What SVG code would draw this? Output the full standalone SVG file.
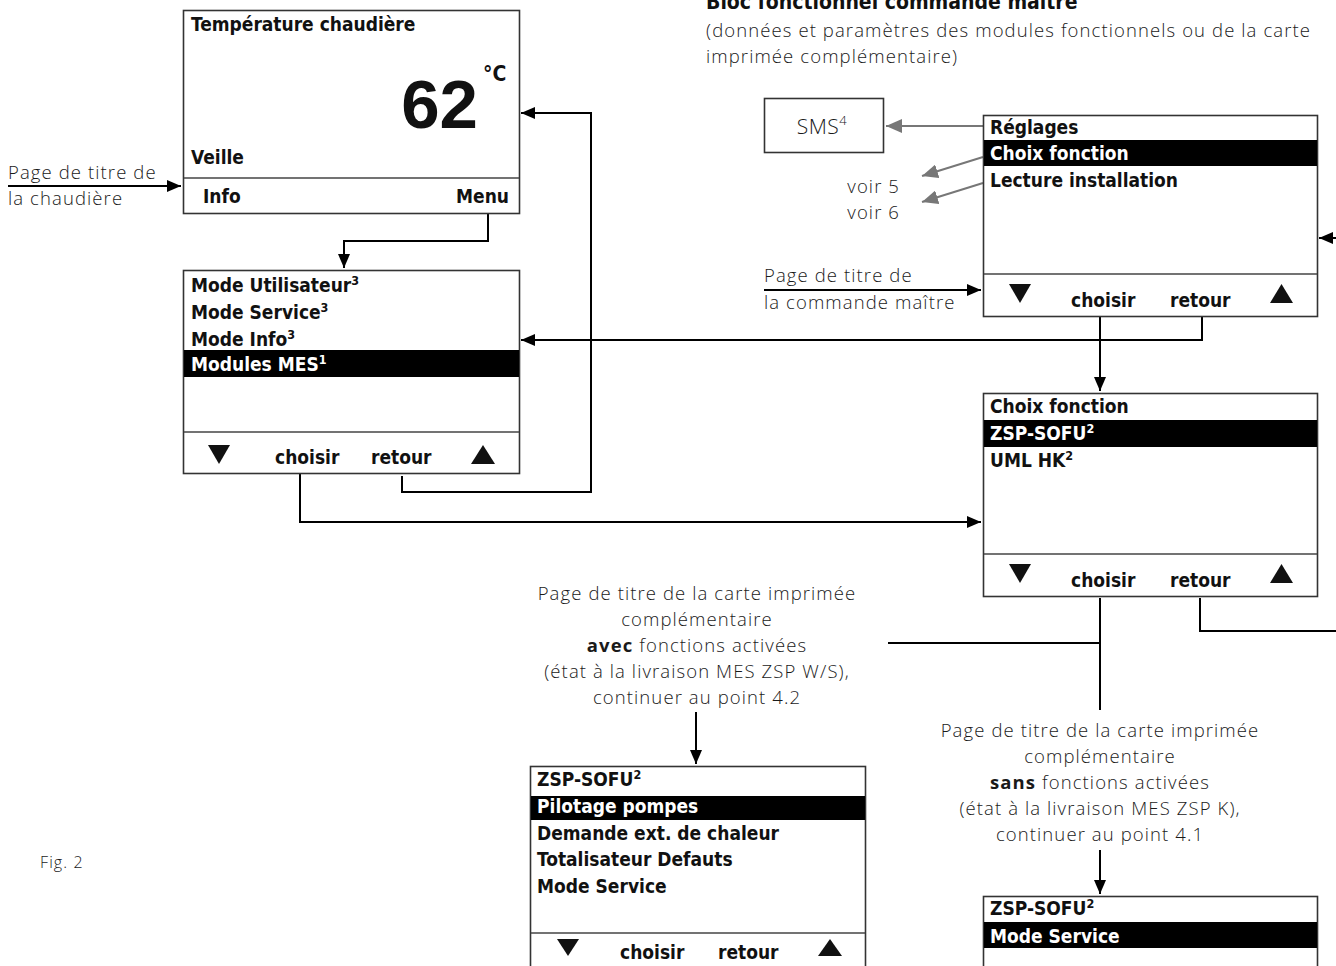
<svg xmlns="http://www.w3.org/2000/svg" width="1336" height="966" viewBox="0 0 1336 966">
<style>
.box{fill:#fff;stroke:#333;stroke-width:1.6}
.div{stroke:#444;stroke-width:1.4}
.hl{fill:#000}
.b{font-family:"DejaVu Sans Condensed","DejaVu Sans",sans-serif;font-stretch:condensed;font-weight:bold;font-size:19px;fill:#111}
.w{fill:#fff}
.l{font-family:"Open Sans","DejaVu Sans",sans-serif;font-weight:300;font-size:18.5px;letter-spacing:1.1px;fill:#1a1a1a}
.c{stroke:#000;stroke-width:2;fill:none}
.g{stroke:#777;stroke-width:2;fill:none}
.tri{fill:#111}
.sup{font-size:12.5px}
</style>
<defs>
<marker id="ah" markerUnits="userSpaceOnUse" markerWidth="14" markerHeight="12" refX="14" refY="6" orient="auto"><path d="M0,0 L14,6 L0,12 z" fill="#000"/></marker>
<marker id="gh" markerUnits="userSpaceOnUse" markerWidth="16" markerHeight="14" refX="16" refY="7" orient="auto"><path d="M0,0 L16,7 L0,14 z" fill="#777"/></marker>
</defs>

<text class="b" x="706" y="9" style="font-size:21px">Bloc fonctionnel commande maître</text>
<text class="l" x="706" y="37">(données et paramètres des modules fonctionnels ou de la carte</text>
<text class="l" x="706" y="63">imprimée complémentaire)</text>
<text class="l" x="40" y="868" style="font-size:16px">Fig. 2</text>

<g id="connectors">
<path class="c" d="M8,186 H181" marker-end="url(#ah)"/>
<path class="c" d="M488,214 V241 H344 V268" marker-end="url(#ah)"/>
<path class="c" d="M402,476 V492 H591 V113 H521" marker-end="url(#ah)"/>
<path class="c" d="M300,474 V522 H981" marker-end="url(#ah)"/>
<path class="c" d="M1202,317 V340 H521" marker-end="url(#ah)"/>
<path class="c" d="M1336,238 H1319" marker-end="url(#ah)"/>
<path class="c" d="M764,290 H981" marker-end="url(#ah)"/>
<path class="c" d="M1100,317 V391" marker-end="url(#ah)"/>
<path class="c" d="M1100,598 V710"/>
<path class="c" d="M888,643 H1100"/>
<path class="c" d="M1200,598 V631 H1336"/>
<path class="c" d="M696,712 V764" marker-end="url(#ah)"/>
<path class="c" d="M1100,850 V894" marker-end="url(#ah)"/>
<path class="g" d="M983,126 H886" marker-end="url(#gh)"/>
<path class="g" d="M983,157 L922,176" marker-end="url(#gh)"/>
<path class="g" d="M983,183 L922,202" marker-end="url(#gh)"/>
</g>

<g id="label-chaudiere">
<text class="l" x="8" y="179">Page de titre de</text>
<text class="l" x="8" y="205">la chaudière</text>
</g>
<g id="label-maitre">
<text class="l" x="764" y="282">Page de titre de</text>
<text class="l" x="764" y="309">la commande maître</text>
</g>
<g id="label-voir">
<text class="l" x="900" y="193" text-anchor="end">voir 5</text>
<text class="l" x="900" y="219" text-anchor="end">voir 6</text>
</g>

<g id="node-temp">
<rect class="box" x="183.5" y="10.5" width="336" height="203"/>
<line class="div" x1="184" y1="178" x2="519" y2="178"/>
<text class="b" x="191" y="31">Température chaudière</text>
<text x="478" y="128" text-anchor="end" style="font-family:'Liberation Sans',sans-serif;font-weight:bold;font-size:69px" fill="#111">62</text>
<text class="b" x="483" y="81" style="font-size:21px">°C</text>
<text class="b" x="191" y="164">Veille</text>
<text class="b" x="203" y="203">Info</text>
<text class="b" x="509" y="203" text-anchor="end">Menu</text>
</g>

<g id="node-menu">
<rect class="box" x="183.5" y="270.5" width="336" height="203"/>
<rect class="hl" x="184" y="350" width="335" height="27"/>
<line class="div" x1="184" y1="432" x2="519" y2="432"/>
<text class="b" x="191" y="292">Mode Utilisateur<tspan class="sup" dy="-7">3</tspan></text>
<text class="b" x="191" y="319">Mode Service<tspan class="sup" dy="-7">3</tspan></text>
<text class="b" x="191" y="346">Mode Info<tspan class="sup" dy="-7">3</tspan></text>
<text class="b w" x="191" y="371">Modules MES<tspan class="sup" dy="-7">1</tspan></text>
<polygon class="tri" points="208,445 230,445 219,464"/>
<polygon class="tri" points="471,464 495,464 483,445"/>
<text class="b" x="275" y="464">choisir</text>
<text class="b" x="371" y="464">retour</text>
</g>

<g id="node-sms">
<rect class="box" x="764.5" y="98.5" width="119" height="54"/>
<text class="l" x="822" y="134" text-anchor="middle" style="font-size:21px;letter-spacing:0.5px">SMS<tspan style="font-size:13px" dy="-9">4</tspan></text>
</g>

<g id="node-reglages">
<rect class="box" x="983.5" y="115.5" width="334" height="201"/>
<rect class="hl" x="984" y="140" width="333" height="26"/>
<line class="div" x1="984" y1="274" x2="1317" y2="274"/>
<text class="b" x="990" y="134">Réglages</text>
<text class="b w" x="990" y="160">Choix fonction</text>
<text class="b" x="990" y="187">Lecture installation</text>
<polygon class="tri" points="1009,284 1031,284 1020,303"/>
<polygon class="tri" points="1270,303 1293,303 1281.5,284"/>
<text class="b" x="1071" y="307">choisir</text>
<text class="b" x="1170" y="307">retour</text>
</g>

<g id="node-choix">
<rect class="box" x="983.5" y="393.5" width="334" height="203"/>
<rect class="hl" x="984" y="420" width="333" height="27"/>
<line class="div" x1="984" y1="554" x2="1317" y2="554"/>
<text class="b" x="990" y="413">Choix fonction</text>
<text class="b w" x="990" y="440">ZSP-SOFU<tspan class="sup" dy="-7">2</tspan></text>
<text class="b" x="990" y="467">UML HK<tspan class="sup" dy="-7">2</tspan></text>
<polygon class="tri" points="1009,564 1031,564 1020,583"/>
<polygon class="tri" points="1270,583 1293,583 1281.5,564"/>
<text class="b" x="1071" y="587">choisir</text>
<text class="b" x="1170" y="587">retour</text>
</g>

<g id="label-avec">
<text class="l" x="697" y="600" text-anchor="middle">Page de titre de la carte imprimée</text>
<text class="l" x="697" y="626" text-anchor="middle">complémentaire</text>
<text class="l" x="697" y="652" text-anchor="middle"><tspan style="font-weight:bold">avec</tspan> fonctions activées</text>
<text class="l" x="697" y="678" text-anchor="middle">(état à la livraison MES ZSP W/S),</text>
<text class="l" x="697" y="704" text-anchor="middle">continuer au point 4.2</text>
</g>

<g id="label-sans">
<text class="l" x="1100" y="737" text-anchor="middle">Page de titre de la carte imprimée</text>
<text class="l" x="1100" y="763" text-anchor="middle">complémentaire</text>
<text class="l" x="1100" y="789" text-anchor="middle"><tspan style="font-weight:bold">sans</tspan> fonctions activées</text>
<text class="l" x="1100" y="815" text-anchor="middle">(état à la livraison MES ZSP K),</text>
<text class="l" x="1100" y="841" text-anchor="middle">continuer au point 4.1</text>
</g>

<g id="node-zsp-avec">
<rect class="box" x="530.5" y="766.5" width="335" height="220"/>
<rect class="hl" x="531" y="796" width="334" height="24"/>
<line class="div" x1="531" y1="933" x2="865" y2="933"/>
<text class="b" x="537" y="786">ZSP-SOFU<tspan class="sup" dy="-7">2</tspan></text>
<text class="b w" x="537" y="813">Pilotage pompes</text>
<text class="b" x="537" y="840">Demande ext. de chaleur</text>
<text class="b" x="537" y="866">Totalisateur Defauts</text>
<text class="b" x="537" y="893">Mode Service</text>
<polygon class="tri" points="557,939 579,939 568,956"/>
<polygon class="tri" points="818,956 842,956 830,939"/>
<text class="b" x="620" y="959">choisir</text>
<text class="b" x="718" y="959">retour</text>
</g>

<g id="node-zsp-sans">
<rect class="box" x="983.5" y="896.5" width="334" height="100"/>
<rect class="hl" x="984" y="922" width="333" height="26"/>
<text class="b" x="990" y="915">ZSP-SOFU<tspan class="sup" dy="-7">2</tspan></text>
<text class="b w" x="990" y="943">Mode Service</text>
</g>
</svg>
